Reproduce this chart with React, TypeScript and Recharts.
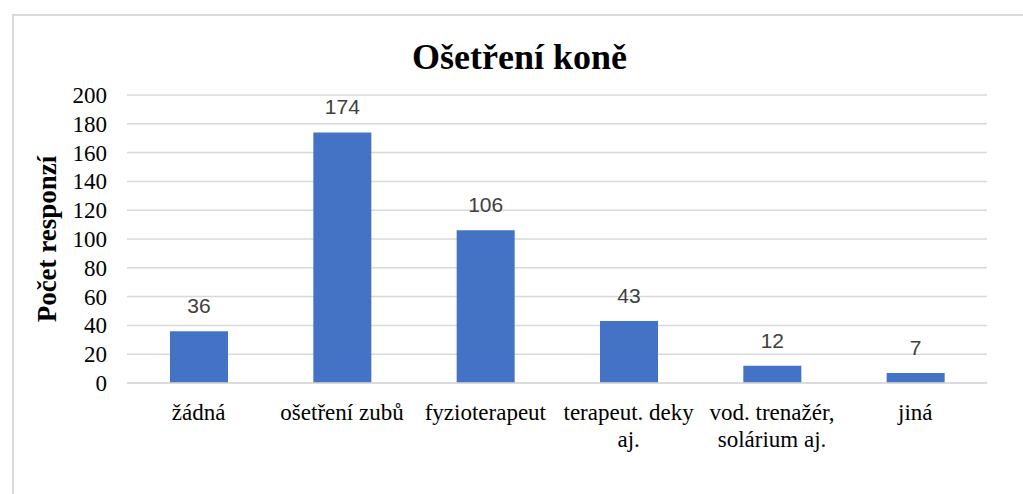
import React from 'react'
import { BarChart, Bar, XAxis, YAxis, CartesianGrid, LabelList } from 'recharts'

const categories = ['žádná', 'ošetření zubů', 'fyzioterapeut', 'terapeut. deky aj.', 'vod. trenažér, solárium aj.', 'jiná']
const responses = [36, 174, 106, 43, 12, 7]
const yTicks = [0, 20, 40, 60, 80, 100, 120, 140, 160, 180, 200]

const data = categories.map((name, i) => ({ name, value: responses[i] }))

const serif = '"Liberation Serif", "Times New Roman", serif'
const sans = '"Liberation Sans", Arial, sans-serif'

let ctx: CanvasRenderingContext2D | null = null
function textWidth(s: string, font: string) {
  if (!ctx) ctx = document.createElement('canvas').getContext('2d')
  if (!ctx) return s.length * 10
  ctx.font = font
  return ctx.measureText(s).width
}

// greedy word wrap so long category names break like in the original
function wrap(label: string, maxWidth: number, font: string) {
  const words = label.split(' ')
  const lines: string[] = []
  let cur = ''
  words.forEach((w) => {
    const next = cur ? cur + ' ' + w : w
    if (cur && textWidth(next, font) > maxWidth) {
      lines.push(cur)
      cur = w
    } else {
      cur = next
    }
  })
  if (cur) lines.push(cur)
  return lines
}

const CategoryTick = (props: any) => {
  const { x, y, payload } = props
  const lines = wrap(payload.value, 140, `23px ${serif}`)
  return (
    <text x={x} y={y} textAnchor="middle" fill="#000" style={{ fontSize: 23, fontFamily: serif }}>
      {lines.map((l, i) => (
        <tspan key={i} x={x} dy={i === 0 ? 16 : 27}>
          {l}
        </tspan>
      ))}
    </text>
  )
}

const ValueTick = (props: any) => {
  const { x, y, payload } = props
  return (
    <text x={x} y={y} dy={8} textAnchor="end" fill="#000" style={{ fontSize: 23, fontFamily: serif }}>
      {payload.value}
    </text>
  )
}

export default function App() {
  return (
    <div style={{ position: 'fixed', left: 0, top: 0, width: 1023, height: 494, overflow: 'hidden', background: '#fff' }}>
      <div
        style={{
          position: 'absolute',
          left: 12,
          top: 14,
          width: 1040,
          height: 520,
          border: '2px solid #d9d9d9',
          boxSizing: 'border-box',
        }}
      />
      <div
        style={{
          position: 'absolute',
          left: 0,
          width: 1023,
          top: 35,
          textAlign: 'center',
          fontFamily: serif,
          fontWeight: 'bold',
          fontSize: 36,
          lineHeight: '44px',
          paddingLeft: 16,
          boxSizing: 'border-box',
        }}
      >
        Ošetření koně
      </div>
      <div style={{ position: 'absolute', left: 0, top: 0 }}>
        <BarChart width={1023} height={494} data={data} margin={{ top: 95, right: 36, bottom: 31, left: 40 }}>
          <CartesianGrid vertical={false} stroke="#d9d9d9" strokeWidth={1.5} />
          <XAxis
            dataKey="name"
            height={80}
            tickLine={false}
            axisLine={{ stroke: '#d9d9d9', strokeWidth: 1.5 }}
            tickSize={6}
            tickMargin={15}
            interval={0}
            tick={<CategoryTick />}
          />
          <YAxis
            width={87}
            domain={[0, 200]}
            ticks={yTicks}
            interval={0}
            axisLine={false}
            tickLine={false}
            tickSize={6}
            tickMargin={14}
            tick={<ValueTick />}
            label={{
              content: ({ viewBox }: any) => {
                const cx = viewBox.x + 7
                const cy = viewBox.y + viewBox.height / 2
                return (
                  <text
                    x={cx}
                    y={cy}
                    transform={`rotate(-90 ${cx} ${cy})`}
                    textAnchor="middle"
                    dominantBaseline="central"
                    fill="#000"
                    style={{ fontFamily: serif, fontWeight: 'bold', fontSize: 27 }}
                  >
                    Počet responzí
                  </text>
                )
              },
            }}
          />
          <Bar dataKey="value" fill="#4472C4" barSize={58} isAnimationActive={false}>
            <LabelList dataKey="value" position="top" offset={18} fill="#404040" fontSize={21} fontFamily={sans} />
          </Bar>
        </BarChart>
      </div>
    </div>
  )
}
